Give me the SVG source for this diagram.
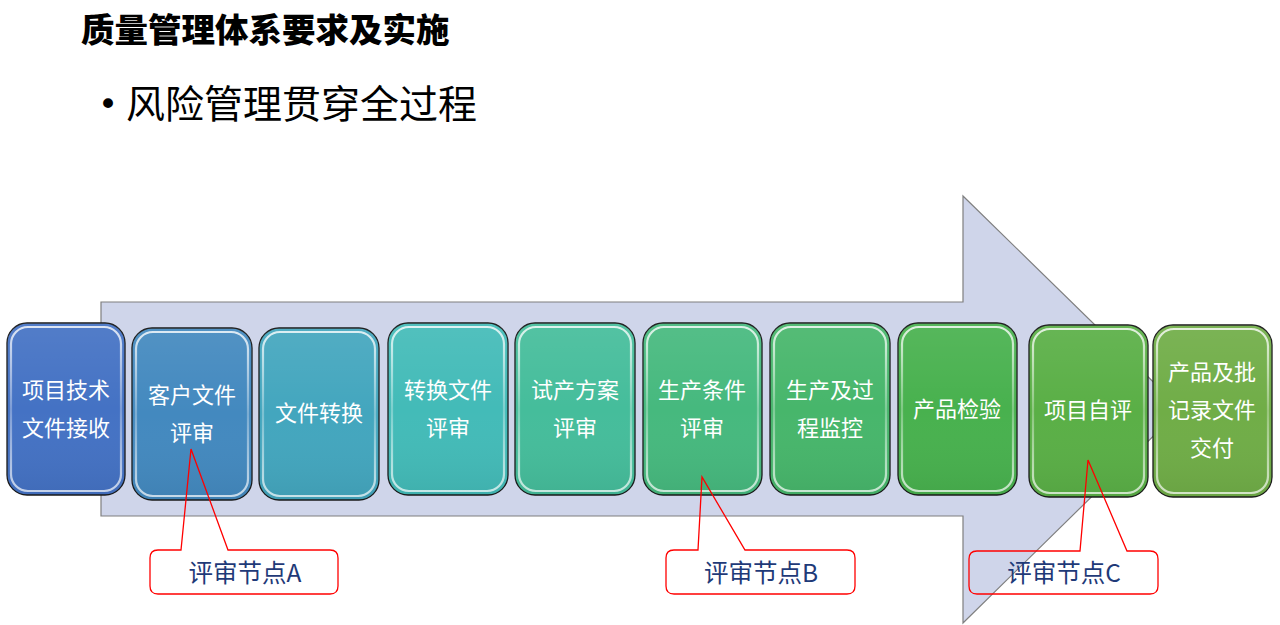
<svg xmlns="http://www.w3.org/2000/svg" width="1280" height="625" viewBox="0 0 1280 625">
<style>
.t{font-family:"Noto Sans CJK SC","Noto Sans",sans-serif;font-size:22px;fill:#ffffff;text-anchor:middle}
.c{font-family:"Noto Sans CJK SC","Noto Sans",sans-serif;font-size:24.5px;fill:#1f3a78;text-anchor:middle}
.box{stroke:#1a1a1a;stroke-width:1.3}
.hl{fill:none;stroke:url(#gl);stroke-width:2.2}
.co{fill:none;stroke:#ff0000;stroke-width:1.3}
</style>
<defs>
<linearGradient id="gl" x1="0" y1="0" x2="0" y2="1">
<stop offset="0" stop-color="#ffffff" stop-opacity="0.8"/>
<stop offset="0.5" stop-color="#ffffff" stop-opacity="0.3"/>
<stop offset="1" stop-color="#ffffff" stop-opacity="0.7"/>
</linearGradient>
<linearGradient id="sh" x1="0" y1="0" x2="0" y2="1">
<stop offset="0" stop-color="#ffffff" stop-opacity="0.08"/>
<stop offset="0.5" stop-color="#ffffff" stop-opacity="0"/>
<stop offset="1" stop-color="#000000" stop-opacity="0.06"/>
</linearGradient>
</defs>
<rect width="1280" height="625" fill="#ffffff"/>
<text x="81" y="42" style="font-family:'Noto Sans CJK SC',serif;font-size:33.5px;font-weight:900;fill:#000">质量管理体系要求及实施</text>
<text x="98" y="116" style="font-family:'DejaVu Sans',sans-serif;font-size:34px;fill:#000">•</text>
<text x="126" y="118" style="font-family:'Noto Sans CJK SC','Noto Sans',sans-serif;font-size:39px;fill:#000">风险管理贯穿全过程</text>
<g id="bigarrow">
<path d="M101,302 L963,302 L963,196 L1181,409 L963,623 L963,516 L101,516 Z" fill="#cfd5ea" stroke="#7f7f7f" stroke-width="1.2"/>
</g>
<g id="n1"><rect class="box" x="7" y="323" width="118" height="172" rx="20" fill="#4472c4"/><rect x="7" y="323" width="118" height="172" rx="20" fill="url(#sh)"/><rect class="hl" x="11" y="327" width="110" height="164" rx="17"/><text class="t" x="66" y="398">项目技术</text><text class="t" x="66" y="436">文件接收</text></g>
<g id="n2"><rect class="box" x="132" y="328" width="120" height="172" rx="20" fill="#4389bf"/><rect x="132" y="328" width="120" height="172" rx="20" fill="url(#sh)"/><rect class="hl" x="136" y="332" width="112" height="164" rx="17"/><text class="t" x="192" y="403">客户文件</text><text class="t" x="192" y="441">评审</text></g>
<g id="n3"><rect class="box" x="259" y="328" width="120" height="172" rx="20" fill="#43a6be"/><rect x="259" y="328" width="120" height="172" rx="20" fill="url(#sh)"/><rect class="hl" x="263" y="332" width="112" height="164" rx="17"/><text class="t" x="319" y="421">文件转换</text></g>
<g id="n4"><rect class="box" x="388" y="323" width="120" height="172" rx="20" fill="#43bbb8"/><rect x="388" y="323" width="120" height="172" rx="20" fill="url(#sh)"/><rect class="hl" x="392" y="327" width="112" height="164" rx="17"/><text class="t" x="448" y="398">转换文件</text><text class="t" x="448" y="436">评审</text></g>
<g id="n5"><rect class="box" x="515" y="323" width="120" height="172" rx="20" fill="#45bd9b"/><rect x="515" y="323" width="120" height="172" rx="20" fill="url(#sh)"/><rect class="hl" x="519" y="327" width="112" height="164" rx="17"/><text class="t" x="575" y="398">试产方案</text><text class="t" x="575" y="436">评审</text></g>
<g id="n6"><rect class="box" x="643" y="323" width="119" height="172" rx="20" fill="#46b97e"/><rect x="643" y="323" width="119" height="172" rx="20" fill="url(#sh)"/><rect class="hl" x="647" y="327" width="111" height="164" rx="17"/><text class="t" x="702" y="398">生产条件</text><text class="t" x="702" y="436">评审</text></g>
<g id="n7"><rect class="box" x="770" y="323" width="120" height="172" rx="20" fill="#47b66b"/><rect x="770" y="323" width="120" height="172" rx="20" fill="url(#sh)"/><rect class="hl" x="774" y="327" width="112" height="164" rx="17"/><text class="t" x="830" y="398">生产及过</text><text class="t" x="830" y="436">程监控</text></g>
<g id="n8"><rect class="box" x="898" y="323" width="119" height="172" rx="20" fill="#48b14e"/><rect x="898" y="323" width="119" height="172" rx="20" fill="url(#sh)"/><rect class="hl" x="902" y="327" width="111" height="164" rx="17"/><text class="t" x="957" y="417">产品检验</text></g>
<g id="n9"><rect class="box" x="1029" y="325" width="119" height="172" rx="20" fill="#5aaf46"/><rect x="1029" y="325" width="119" height="172" rx="20" fill="url(#sh)"/><rect class="hl" x="1033" y="329" width="111" height="164" rx="17"/><text class="t" x="1088" y="418">项目自评</text></g>
<g id="n10"><rect class="box" x="1153" y="325" width="119" height="172" rx="20" fill="#70ad47"/><rect x="1153" y="325" width="119" height="172" rx="20" fill="url(#sh)"/><rect class="hl" x="1157" y="329" width="111" height="164" rx="17"/><text class="t" x="1212" y="380">产品及批</text><text class="t" x="1212" y="418">记录文件</text><text class="t" x="1212" y="456">交付</text></g>
<g id="connectors">
<path id="coA" class="co" d="M158,550 L181,550 L191,449 L228,550 L330,550 Q338,550 338,558 L338,586 Q338,594 330,594 L158,594 Q150,594 150,586 L150,558 Q150,550 158,550 Z"/>
<path id="coB" class="co" d="M674,550 L698,550 L702,477 L745,550 L847,550 Q855,550 855,558 L855,586 Q855,594 847,594 L674,594 Q666,594 666,586 L666,558 Q666,550 674,550 Z"/>
<path id="coC" class="co" d="M977,551 L1080,551 L1088,460 L1127,551 L1150,551 Q1158,551 1158,559 L1158,586 Q1158,594 1150,594 L977,594 Q969,594 969,586 L969,559 Q969,551 977,551 Z"/>
</g>
<g id="labelA"><text class="c" x="245" y="582">评审节点A</text></g>
<g id="labelB"><text class="c" x="761" y="582">评审节点B</text></g>
<g id="labelC"><text class="c" x="1064" y="582">评审节点C</text></g>
</svg>
